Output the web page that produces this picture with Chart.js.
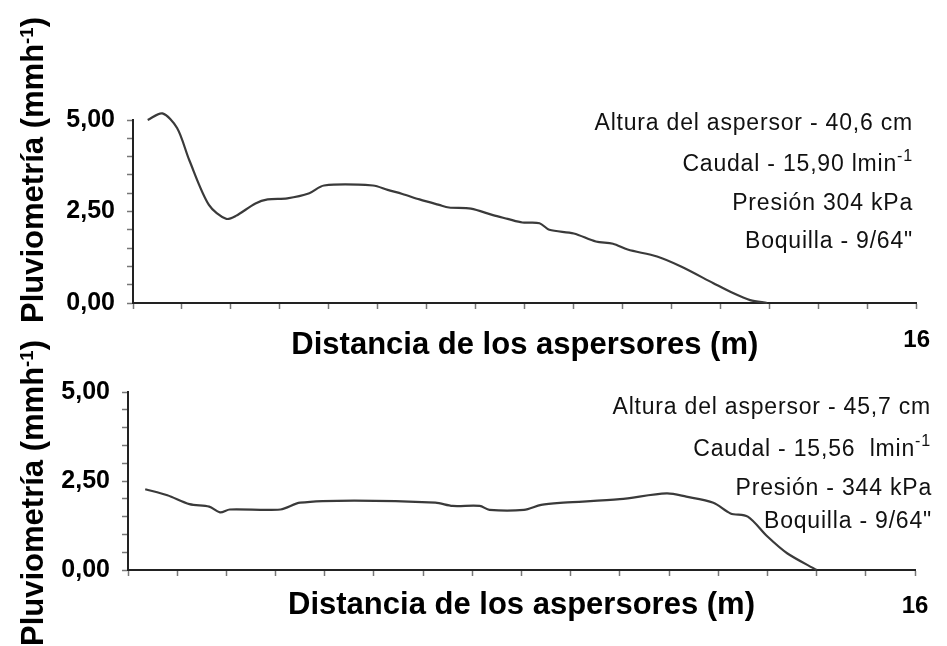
<!DOCTYPE html>
<html>
<head>
<meta charset="utf-8">
<script src="https://cdn.jsdelivr.net/npm/chart.js@4/dist/chart.umd.min.js"></script>
<style>
  html, body { margin:0; padding:0; background:#fff; }
  #wrap { position:relative; width:947px; height:646px; overflow:hidden; background:#fff; }
  canvas { position:absolute; left:0; top:0; }
  .ytitle { position:absolute; font:bold 31px "Liberation Sans", Arial, sans-serif; color:#000;
            white-space:nowrap; transform:translate(-50%,-50%) rotate(-90deg); }
  .ytitle sup { font-size:0.6em; vertical-align:0.55em; line-height:0; }
  .note { position:absolute; font:23px "Liberation Sans", Arial, sans-serif; color:#111; letter-spacing:0.8px;
          white-space:nowrap; transform:translateY(-50%); text-align:right; }
  .note sup { font-size:0.7em; vertical-align:0.6em; line-height:0; }
</style>
</head>
<body>
<div id="wrap">
  <canvas id="c1" width="947" height="646"></canvas>
  <canvas id="c2" width="947" height="646"></canvas>

  <div class="ytitle" style="left:33px; top:170px;">Pluviometría (mmh<sup>-1</sup>)</div>
  <div class="ytitle" style="left:33px; top:493px;">Pluviometría (mmh<sup>-1</sup>)</div>

  <div class="note" style="right:34px; top:122px;">Altura del aspersor - 40,6 cm</div>
  <div class="note" style="right:34px; top:163px;">Caudal - 15,90 lmin<sup>-1</sup></div>
  <div class="note" style="right:34px; top:202px;">Presión 304 kPa</div>
  <div class="note" style="right:34px; top:240px;">Boquilla - 9/64"</div>

  <div class="note" style="right:16px; top:406px;">Altura del aspersor - 45,7 cm</div>
  <div class="note" style="right:16px; top:448px;">Caudal - 15,56 &nbsp;lmin<sup>-1</sup></div>
  <div class="note" style="right:15px; top:487px;">Presión - 344 kPa</div>
  <div class="note" style="right:15px; top:520px;">Boquilla - 9/64"</div>
</div>
<script>
// ---- data ----
const xTitle = 'Distancia de los aspersores (m)';
const xMax = 16;
const yTickLabels = [0, 2.5, 5];

// Top panel: sprinkler height 40,6 cm
const xTop = [0.3, 0.6, 0.9, 1.15, 1.55, 1.9, 2.1, 2.5, 2.75, 3.15, 3.6, 3.9, 4.9, 5.2, 5.5, 5.85, 6.25, 6.45, 6.9, 7.35, 7.65, 7.95, 8.3, 8.5, 9.0, 9.45, 9.8, 10.1, 10.7, 11.2, 11.85, 12.25, 12.6, 12.95];
const yTop = [5.0, 5.18, 4.78, 3.9, 2.68, 2.3, 2.38, 2.72, 2.83, 2.86, 3.0, 3.21, 3.21, 3.09, 2.98, 2.83, 2.68, 2.61, 2.58, 2.4, 2.3, 2.2, 2.18, 2.0, 1.9, 1.68, 1.62, 1.46, 1.27, 0.99, 0.54, 0.27, 0.08, 0.0];

// Bottom panel: sprinkler height 45,7 cm
const xBot = [0.35, 0.8, 1.25, 1.65, 1.87, 2.07, 3.1, 3.5, 4.6, 6.25, 6.6, 7.15, 7.35, 8.05, 8.4, 8.85, 10.0, 10.95, 11.35, 11.9, 12.25, 12.6, 13.0, 13.4, 14.0];
const yBot = [2.27, 2.1, 1.85, 1.78, 1.62, 1.7, 1.7, 1.89, 1.95, 1.89, 1.8, 1.8, 1.69, 1.69, 1.83, 1.89, 1.99, 2.15, 2.06, 1.89, 1.59, 1.5, 0.94, 0.47, 0.0];

const FONT = '"Liberation Sans", Arial, sans-serif';

function makeChart(id, xs, ys, g) {
  const pts = xs.map((x, i) => ({ x: x, y: ys[i] }));
  return new Chart(document.getElementById(id), {
    type: 'line',
    data: { datasets: [{ data: pts, borderColor: '#3a3a3a', borderWidth: 2.2, pointRadius: 0, tension: 0.3, fill: false, clip: false }] },
    options: {
      responsive: false, animation: false, events: [],
      layout: { padding: { left: 0, right: g.right, top: g.top, bottom: g.bottom } },
      plugins: { legend: { display: false }, tooltip: { enabled: false } },
      scales: {
        x: {
          type: 'linear', min: 0, max: xMax,
          afterFit: s => { s.height = g.xh; },
          border: { color: '#222', width: 2 },
          grid: { drawOnChartArea: false, tickLength: 6, color: '#777', tickWidth: 1.5 },
          ticks: {
            stepSize: 1, autoSkip: false, maxRotation: 0, padding: g.tickPad, color: '#000',
            font: { family: FONT, weight: 'bold', size: 24 },
            callback: v => (v === xMax ? String(xMax) : '')
          },
          title: {
            display: true, text: xTitle, color: '#000',
            font: { family: FONT, weight: 'bold', size: 31 },
            padding: { top: 0, bottom: g.titlePad }
          }
        },
        y: {
          min: 0, max: 5,
          afterFit: s => { s.width = g.yw; },
          border: { color: '#222', width: 2 },
          grid: { drawOnChartArea: false, tickLength: 6, color: '#777', tickWidth: 1.5 },
          ticks: {
            stepSize: 0.5, autoSkip: false, padding: 12, color: '#000',
            font: { family: FONT, weight: 'bold', size: 25 },
            callback: v => (yTickLabels.includes(v) ? v.toFixed(2).replace('.', ',') : '')
          }
        }
      }
    }
  });
}

makeChart('c1', xTop, yTop, { yw: 133, right: 30, top: 120, xh: 70, bottom: 646 - 303 - 70, tickPad: 17, titlePad: 9 });
makeChart('c2', xBot, yBot, { yw: 128, right: 32, top: 392, xh: 70, bottom: 646 - 570 - 70, tickPad: 16, titlePad: 16 });
</script>
</body>
</html>
